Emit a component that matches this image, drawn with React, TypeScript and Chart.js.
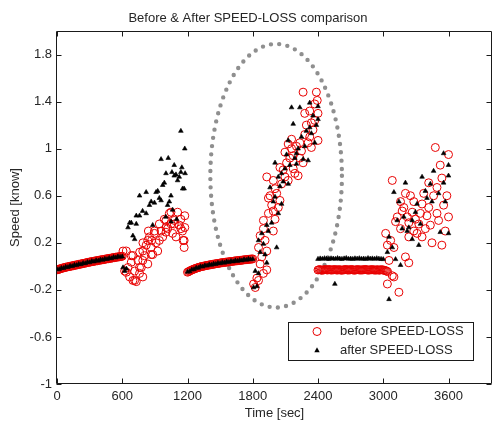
import React, { useEffect, useRef } from "react";
import { Chart, registerables } from "chart.js";

Chart.register(...registerables);

// ---------- tick labels ----------
const xTicks = [0, 600, 1200, 1800, 2400, 3000, 3600];
const yTicks = [-1, -0.6, -0.2, 0.2, 0.6, 1, 1.4, 1.8];

// ---------- segment A (0-600 s), smooth ----------
const timeABefore = [0, 10, 20, 30, 40, 50, 60, 70, 80, 90, 100, 110, 120, 130, 140, 150, 160, 170, 180, 190, 200, 210, 220, 230, 240, 250, 260, 270, 280, 290, 300, 310, 320, 330, 340, 350, 360, 370, 380, 390, 400, 410, 420, 430, 440, 450, 460, 470, 480, 490, 500, 510, 520, 530, 540, 550, 560, 570, 580, 590, 600];
const beforeA = [-0.03, -0.028, -0.023, -0.022, -0.017, -0.016, -0.012, -0.011, -0.007, -0.007, -0.003, -0.003, 0.001, 0.001, 0.005, 0.005, 0.009, 0.009, 0.013, 0.013, 0.017, 0.017, 0.021, 0.021, 0.025, 0.025, 0.029, 0.029, 0.033, 0.033, 0.037, 0.037, 0.041, 0.04, 0.044, 0.044, 0.048, 0.047, 0.051, 0.051, 0.055, 0.054, 0.058, 0.057, 0.061, 0.061, 0.065, 0.064, 0.068, 0.067, 0.071, 0.071, 0.075, 0.074, 0.078, 0.077, 0.081, 0.08, 0.084, 0.083, 0.086];
const timeAAfter = [0, 20, 40, 60, 80, 100, 120, 140, 160, 180, 200, 220, 240, 260, 280, 300, 320, 340, 360, 380, 400, 420, 440, 460, 480, 500, 520, 540, 560, 580, 600];
const afterA = [-0.027, -0.026, -0.015, -0.016, -0.005, -0.007, 0.003, 0.001, 0.011, 0.009, 0.019, 0.017, 0.027, 0.025, 0.035, 0.033, 0.043, 0.04, 0.05, 0.047, 0.057, 0.054, 0.063, 0.061, 0.07, 0.067, 0.077, 0.074, 0.083, 0.08, 0.083];

// ---------- segment B (600-1180 s), scattered ----------
const beforeB: [number, number][] = [
  [607, 0.13], [622, -0.04], [638, 0.13], [638, -0.05], [653, -0.01], [668, -0.09], [683, 0.035], [683, 0.09],
  [698, 0.09], [698, -0.12], [714, -0.04], [714, -0.12], [729, -0.13], [744, 0.05], [759, -0.06], [759, -0.01],
  [760, 0.12], [775, -0.01], [789, -0.09], [789, 0.13], [789, 0.05], [790, 0.2], [805, 0.09], [820, 0.18],
  [835, 0.02], [835, 0.22], [840, 0.3], [850, 0.25], [866, 0.16], [866, 0.1], [870, 0.22], [880, 0.1],
  [896, 0.28], [896, 0.3], [911, 0.2], [926, 0.13], [941, 0.22], [941, 0.36], [957, 0.3], [972, 0.25],
  [987, 0.4], [1002, 0.33], [1002, 0.39], [1002, 0.29], [1017, 0.32], [1033, 0.45], [1048, 0.36], [1048, 0.46],
  [1063, 0.28], [1078, 0.39], [1078, 0.36], [1094, 0.25], [1109, 0.46], [1124, 0.35], [1139, 0.4], [1139, 0.32],
  [1154, 0.3], [1160, 0.22], [1169, 0.16], [1169, 0.22], [1175, 0.33], [1175, 0.43],
];
const afterB: [number, number][] = [
  [607, -0.01], [622, -0.04], [638, -0.02], [653, 0.33], [668, 0.37], [683, 0.37], [698, 0.26], [714, 0.23],
  [729, 0.36], [729, 0.43], [759, 0.6], [759, 0.43], [787, 0.47], [820, 0.63], [820, 0.45], [850, 0.52],
  [866, 0.55], [880, 0.35], [896, 0.54], [911, 0.63], [926, 0.64], [941, 0.58], [957, 0.56], [957, 0.91],
  [972, 0.69], [987, 0.71], [1000, 0.42], [1002, 0.79], [1017, 0.52], [1023, 0.92], [1033, 0.55], [1048, 0.6],
  [1050, 0.38], [1057, 0.8], [1063, 0.48], [1078, 0.86], [1078, 0.77], [1094, 0.78], [1100, 0.4], [1109, 0.73],
  [1124, 0.76], [1139, 0.8], [1139, 1.15], [1148, 0.84], [1155, 0.66], [1169, 0.66], [1175, 1.0], [1178, 0.79],
];

// ---------- segment C (1200-1800 s), smooth ----------
const timeCBefore = [1200, 1210, 1220, 1230, 1240, 1250, 1260, 1270, 1280, 1290, 1300, 1310, 1320, 1330, 1340, 1350, 1360, 1370, 1380, 1390, 1400, 1410, 1420, 1430, 1440, 1450, 1460, 1470, 1480, 1490, 1500, 1510, 1520, 1530, 1540, 1550, 1560, 1570, 1580, 1590, 1600, 1610, 1620, 1630, 1640, 1650, 1660, 1670, 1680, 1690, 1700, 1710, 1720, 1730, 1740, 1750, 1760, 1770, 1780, 1790, 1800];
const beforeC = [-0.05, -0.045, -0.04, -0.035, -0.031, -0.027, -0.023, -0.019, -0.016, -0.013, -0.01, -0.007, -0.004, -0.002, 0.0, 0.002, 0.004, 0.006, 0.008, 0.01, 0.012, 0.013, 0.015, 0.017, 0.018, 0.02, 0.022, 0.023, 0.025, 0.026, 0.028, 0.03, 0.031, 0.032, 0.033, 0.035, 0.036, 0.037, 0.038, 0.04, 0.041, 0.042, 0.043, 0.045, 0.046, 0.047, 0.048, 0.049, 0.05, 0.051, 0.052, 0.054, 0.055, 0.056, 0.057, 0.058, 0.059, 0.06, 0.061, 0.062, 0.063];
const timeCAfter = [1200, 1220, 1240, 1260, 1280, 1300, 1320, 1340, 1360, 1380, 1400, 1420, 1440, 1460, 1480, 1500, 1520, 1540, 1560, 1580, 1600, 1620, 1640, 1660, 1680, 1700, 1720, 1740, 1760, 1780, 1800];
const afterC = [-0.047, -0.043, -0.028, -0.026, -0.013, -0.013, -0.001, -0.003, 0.007, 0.005, 0.015, 0.012, 0.021, 0.019, 0.028, 0.025, 0.034, 0.03, 0.039, 0.035, 0.044, 0.04, 0.049, 0.045, 0.053, 0.049, 0.058, 0.054, 0.062, 0.058, 0.06];

// ---------- segment D (1800-2400 s), scattered rising ----------
const beforeD: [number, number][] = [
  [1808, -0.15], [1823, -0.18], [1838, -0.1], [1853, -0.12], [1853, 0.16], [1868, 0.02], [1883, 0.08], [1898, -0.06],
  [1898, 0.32], [1898, 0.39], [1913, 0.22], [1929, 0.13], [1929, -0.03], [1929, 0.76], [1944, 0.45], [1959, 0.6],
  [1974, 0.52], [1989, 0.3], [1989, 0.47], [1989, 0.73], [2005, 0.66], [2020, 0.62], [2035, 0.5], [2050, 0.56],
  [2065, 0.7], [2080, 0.82], [2096, 0.97], [2111, 0.88], [2126, 0.73], [2126, 1.04], [2141, 0.92], [2157, 1.0],
  [2172, 0.83], [2172, 0.94], [2187, 0.79], [2202, 1.02], [2217, 0.77], [2233, 1.05], [2248, 0.98], [2263, 0.88],
  [2263, 1.48], [2278, 1.12], [2293, 1.2], [2309, 1.05], [2324, 1.1], [2324, 1.32], [2339, 1.01], [2354, 1.16],
  [2370, 1.24], [2385, 1.48], [2393, 1.41], [2400, 1.07], [2400, 1.3], [1868, 0.26], [1944, 0.58], [2005, 0.4],
  [2050, 0.84], [2096, 0.76], [2157, 1.08], [2233, 0.92], [2278, 1.3], [2339, 1.22], [2370, 1.38],
];
const afterD: [number, number][] = [
  [1808, -0.18], [1823, -0.04], [1838, -0.17], [1853, -0.06], [1853, 0.22], [1868, 0.12], [1883, 0.28], [1898, 0.19],
  [1913, 0.1], [1929, 0.03], [1929, 0.35], [1944, 0.3], [1959, 0.67], [1974, 0.37], [1989, 0.55], [2005, 0.59],
  [2005, 0.88], [2020, 0.16], [2035, 0.45], [2035, 0.76], [2050, 0.68], [2065, 0.53], [2065, 0.79], [2080, 0.72],
  [2096, 0.83], [2111, 0.95], [2126, 0.7], [2126, 1.07], [2141, 0.86], [2157, 1.35], [2172, 1.21], [2187, 0.92],
  [2202, 0.87], [2202, 0.96], [2217, 1.0], [2233, 1.35], [2248, 1.1], [2263, 0.91], [2278, 1.02], [2293, 1.15],
  [2309, 0.9], [2324, 1.18], [2324, 1.39], [2339, 1.13], [2354, 1.28], [2370, 1.05], [2385, 1.2], [2400, 1.25],
  [2400, 1.36],
];

// ---------- segment E (2400-3040 s), flat ----------
const timeEBefore = [2400, 2410, 2420, 2430, 2440, 2450, 2460, 2470, 2480, 2490, 2500, 2510, 2520, 2530, 2540, 2550, 2560, 2570, 2580, 2590, 2600, 2610, 2620, 2630, 2640, 2650, 2660, 2670, 2680, 2690, 2700, 2710, 2720, 2730, 2740, 2750, 2760, 2770, 2780, 2790, 2800, 2810, 2820, 2830, 2840, 2850, 2860, 2870, 2880, 2890, 2900, 2910, 2920, 2930, 2940, 2950, 2960, 2970, 2980, 2990, 3000, 3010, 3020, 3030, 3040];
const beforeE = [-0.031, -0.029, -0.028, -0.032, -0.033, -0.03, -0.029, -0.027, -0.03, -0.031, -0.027, -0.029, -0.032, -0.03, -0.03, -0.028, -0.028, -0.031, -0.031, -0.029, -0.029, -0.032, -0.033, -0.03, -0.03, -0.028, -0.027, -0.031, -0.031, -0.03, -0.029, -0.027, -0.03, -0.032, -0.032, -0.03, -0.028, -0.029, -0.03, -0.031, -0.031, -0.03, -0.029, -0.028, -0.027, -0.03, -0.032, -0.031, -0.03, -0.029, -0.028, -0.03, -0.031, -0.032, -0.03, -0.029, -0.033, -0.031, -0.029, -0.03, -0.031, -0.034, -0.036, -0.04, -0.045];
const timeEAfter = [2400, 2420, 2440, 2460, 2480, 2500, 2520, 2540, 2560, 2580, 2600, 2620, 2640, 2660, 2680, 2700, 2720, 2740, 2760, 2780, 2800, 2820, 2840, 2860, 2880, 2900, 2920, 2940, 2960, 2980, 3000];
const afterE = [0.062, 0.066, 0.063, 0.068, 0.064, 0.062, 0.067, 0.065, 0.063, 0.069, 0.064, 0.062, 0.066, 0.07, 0.063, 0.065, 0.062, 0.067, 0.064, 0.068, 0.063, 0.065, 0.062, 0.069, 0.064, 0.066, 0.063, 0.068, 0.064, 0.062, 0.06];
const afterEOutliers: [number, number][] = [[2555, -0.15]];

// ---------- segment F (3000-3600 s), scattered ----------
const beforeF: [number, number][] = [
  [3022, 0.28], [3038, 0.18], [3038, -0.15], [3068, 0.22], [3083, 0.73], [3083, -0.08], [3098, 0.16], [3098, -0.09],
  [3129, 0.42], [3144, -0.22], [3159, 0.55], [3159, 0.32], [3174, 0.47], [3204, 0.62], [3204, 0.08], [3235, 0.37],
  [3235, 0.25], [3235, 0.03], [3266, 0.46], [3281, 0.55], [3281, 0.3], [3327, 0.36], [3357, 0.53], [3357, 0.25],
  [3387, 0.32], [3402, 0.43], [3418, 0.71], [3433, 0.35], [3448, 0.2], [3479, 1.01], [3494, 0.67], [3509, 0.39],
  [3524, 0.86], [3539, 0.18], [3555, 0.52], [3600, 0.95], [3600, 0.42], [3053, 0.05], [3113, 0.38], [3189, 0.5],
  [3220, 0.42], [3250, 0.6], [3296, 0.4], [3311, 0.28], [3342, 0.45], [3372, 0.62], [3418, 0.5], [3463, 0.6],
  [3494, 0.45], [3539, 0.75], [3570, 0.3], [3585, 0.6],
];
const afterF: [number, number][] = [
  [3038, 0.12], [3053, 0.25], [3053, -0.28], [3083, 0.16], [3098, 0.63], [3113, 0.06], [3129, 0.39], [3144, 0.55],
  [3159, 0.01], [3174, 0.32], [3189, 0.42], [3204, 0.71], [3235, 0.33], [3266, 0.39], [3266, 0.23], [3311, 0.53],
  [3327, 0.18], [3342, 0.36], [3357, 0.76], [3387, 0.64], [3448, 0.55], [3463, 0.81], [3524, 0.29], [3555, 0.96],
  [3555, 0.71], [3600, 0.86], [3600, 0.77], [3600, 0.28], [3220, 0.3], [3296, 0.46], [3402, 0.58], [3433, 0.7],
  [3509, 0.62], [3570, 0.55],
];

// ---------- highlight ellipse (data space) ----------
const ellipseCenter = [2015, 0.77];
const ellipseRadii = [605, 1.12];

const FONT = "'Liberation Sans', Arial, Helvetica, sans-serif";
const TEXT = "#262626";

type P = { x: number; y: number };
const zipT = (t: number[], v: number[]): P[] => t.map((x, i) => ({ x, y: v[i] }));
const fromPairs = (p: [number, number][]): P[] => p.map(([x, y]) => ({ x, y }));

const ellipsePlugin = {
  id: "ellipse",
  beforeDatasetsDraw(chart: any) {
    const { ctx, scales } = chart;
    const cx = scales.x.getPixelForValue(ellipseCenter[0]);
    const cy = scales.y.getPixelForValue(ellipseCenter[1]);
    const rx = Math.abs(scales.x.getPixelForValue(ellipseCenter[0] + ellipseRadii[0]) - cx);
    const ry = Math.abs(scales.y.getPixelForValue(ellipseCenter[1] + ellipseRadii[1]) - cy);
    ctx.save();
    ctx.strokeStyle = "#8f8f8f";
    ctx.lineWidth = 4.4;
    ctx.lineCap = "round";
    ctx.setLineDash([0, 8.3]);
    ctx.beginPath();
    ctx.ellipse(cx, cy, rx, ry, 0, 0, Math.PI * 2);
    ctx.stroke();
    ctx.restore();
  },
};

const framePlugin = {
  id: "frame",
  afterDraw(chart: any) {
    const { ctx, chartArea, scales } = chart;
    const l = Math.round(chartArea.left) - 0.5;
    const r = Math.round(chartArea.right) - 0.5;
    const t = Math.round(chartArea.top) + 0.5;
    const b = Math.round(chartArea.bottom) - 0.5;
    ctx.save();
    ctx.strokeStyle = "#1a1a1a";
    ctx.lineWidth = 1;
    ctx.beginPath();
    ctx.rect(l, t, r - l, b - t);
    const tl = 5;
    for (const v of xTicks) {
      const px = Math.round(scales.x.getPixelForValue(v)) + 0.5;
      ctx.moveTo(px, b);
      ctx.lineTo(px, b - tl);
      ctx.moveTo(px, t);
      ctx.lineTo(px, t + tl);
    }
    for (const v of yTicks) {
      const py = Math.round(scales.y.getPixelForValue(v)) + 0.5;
      ctx.moveTo(l, py);
      ctx.lineTo(l + tl, py);
      ctx.moveTo(r, py);
      ctx.lineTo(r - tl, py);
    }
    ctx.stroke();

    // legend box
    const bx = 288.5, by = 322.5, bw = 185, bh = 38;
    ctx.fillStyle = "#ffffff";
    ctx.fillRect(bx, by, bw, bh);
    ctx.strokeStyle = "#1a1a1a";
    ctx.strokeRect(bx, by, bw, bh);
    ctx.font = `13px ${FONT}`;
    ctx.textBaseline = "middle";
    ctx.textAlign = "left";
    const ds = chart.data.datasets;
    const rows = [331.5, 350];
    ds.forEach((d: any, i: number) => {
      const y = rows[i];
      ctx.save();
      ctx.lineWidth = d.borderWidth;
      ctx.strokeStyle = d.borderColor;
      ctx.fillStyle = d.backgroundColor;
      if (d.pointStyle === "circle") {
        ctx.beginPath();
        ctx.arc(317, y, d.pointRadius, 0, Math.PI * 2);
        ctx.stroke();
      } else {
        const s = d.pointRadius;
        ctx.beginPath();
        ctx.moveTo(317, y - s);
        ctx.lineTo(317 + s, y + s * 0.8);
        ctx.lineTo(317 - s, y + s * 0.8);
        ctx.closePath();
        ctx.fill();
      }
      ctx.restore();
      ctx.fillStyle = TEXT;
      ctx.fillText(d.label, 340, y);
    });
    ctx.restore();
  },
};

export default function App() {
  const ref = useRef<HTMLCanvasElement | null>(null);

  useEffect(() => {
    if (!ref.current) return;
    const beforeData: P[] = [
      ...zipT(timeABefore, beforeA),
      ...fromPairs(beforeB),
      ...zipT(timeCBefore, beforeC),
      ...fromPairs(beforeD),
      ...zipT(timeEBefore, beforeE),
      ...fromPairs(beforeF),
    ];
    const afterData: P[] = [
      ...zipT(timeAAfter, afterA),
      ...fromPairs(afterB),
      ...zipT(timeCAfter, afterC),
      ...fromPairs(afterD),
      ...zipT(timeEAfter, afterE),
      ...fromPairs(afterEOutliers),
      ...fromPairs(afterF),
    ];
    const tickFont = { family: FONT, size: 13 };
    const chart = new Chart(ref.current, {
      type: "scatter",
      data: {
        datasets: [
          {
            label: "before SPEED-LOSS",
            data: beforeData,
            pointStyle: "circle",
            pointRadius: 4,
            borderWidth: 1,
            borderColor: "rgb(232,0,0)",
            backgroundColor: "rgba(0,0,0,0)",
            order: 1,
          } as any,
          {
            label: "after SPEED-LOSS",
            data: afterData,
            pointStyle: "triangle",
            pointRadius: 2.7,
            borderWidth: 0.6,
            borderColor: "#000000",
            backgroundColor: "#000000",
            order: 0,
          } as any,
        ],
      },
      options: {
        responsive: false,
        animation: false,
        events: [],
        layout: { padding: { left: 0, right: 1, top: 0, bottom: 0 } },
        plugins: {
          legend: { display: false },
          tooltip: { enabled: false },
          title: {
            display: true,
            text: "Before & After SPEED-LOSS comparison",
            color: TEXT,
            font: { family: FONT, size: 13, weight: "normal" },
            padding: { top: 11, bottom: 4.4 },
          },
        },
        scales: {
          x: {
            type: "linear",
            min: 0,
            max: 4000,
            afterBuildTicks: (s: any) => {
              s.ticks = xTicks.map((v) => ({ value: v }));
            },
            afterFit: (s: any) => {
              s.height = 37;
            },
            grid: { display: false, drawTicks: false },
            border: { display: false },
            ticks: { padding: 5, color: TEXT, font: tickFont, callback: (v: any) => String(v), maxRotation: 0, autoSkip: false },
            title: { display: true, text: "Time [sec]", color: TEXT, font: tickFont, padding: { top: 0, bottom: 0 } },
          },
          y: {
            type: "linear",
            min: -1,
            max: 2,
            afterBuildTicks: (s: any) => {
              s.ticks = yTicks.map((v) => ({ value: v }));
            },
            afterFit: (s: any) => {
              s.width = 57;
            },
            grid: { display: false, drawTicks: false },
            border: { display: false },
            ticks: { padding: 5, color: TEXT, font: tickFont, callback: (v: any) => String(v), autoSkip: false },
            title: { display: true, text: "Speed [know]", color: TEXT, font: tickFont, padding: { top: 7.5, bottom: 0 } },
          },
        },
      } as any,
      plugins: [ellipsePlugin, framePlugin],
    });
    return () => chart.destroy();
  }, []);

  return (
    <canvas
      ref={ref}
      width={497}
      height={421}
      style={{ position: "fixed", left: 0, top: 0, width: 497, height: 421 }}
    />
  );
}
